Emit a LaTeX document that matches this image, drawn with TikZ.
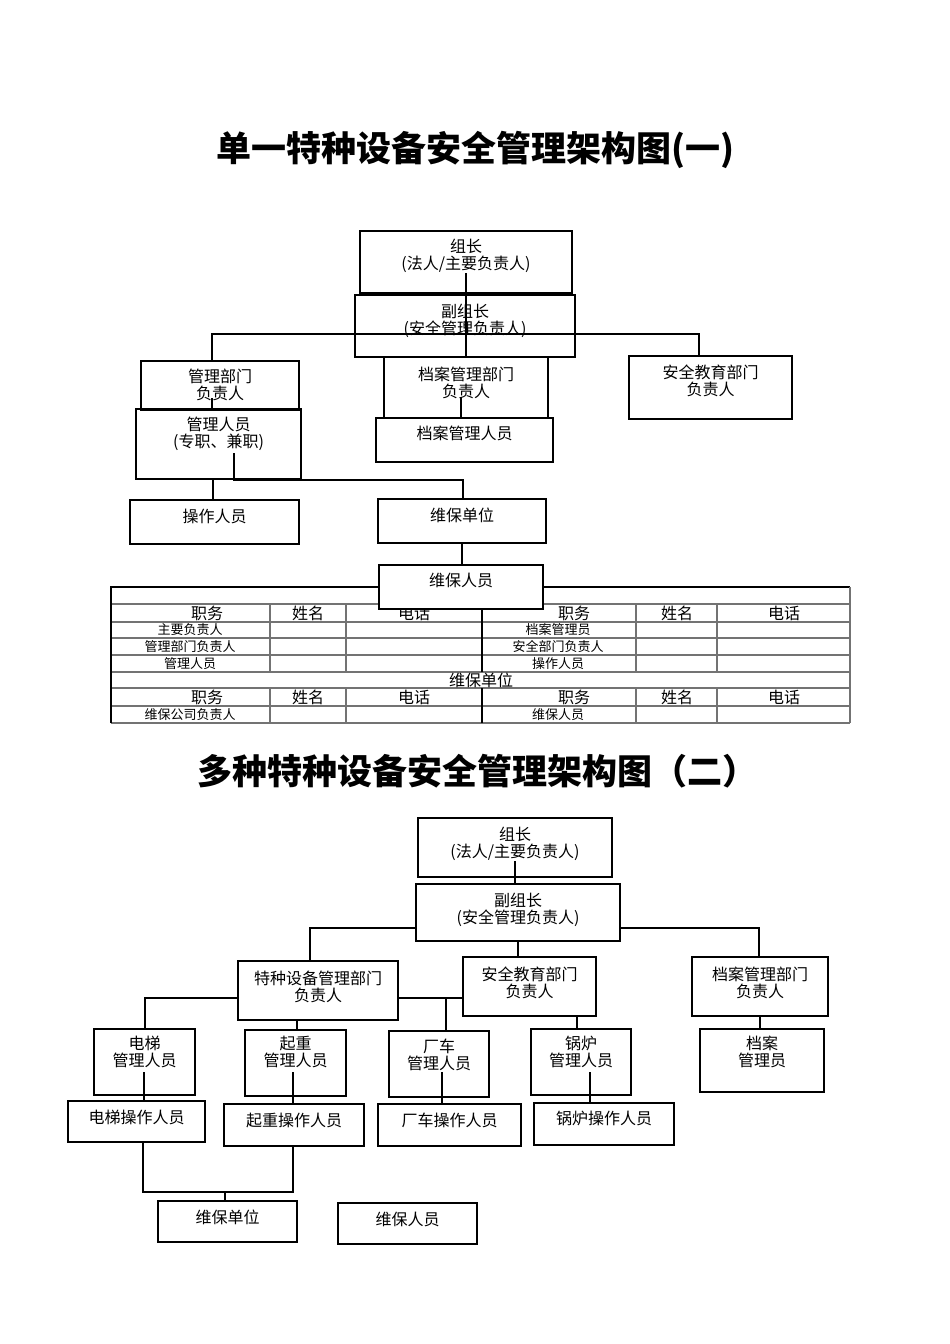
\documentclass[tikz,border=0pt]{standalone}
\usepackage{fontspec}
\setmainfont{Noto Sans CJK SC}
\begin{document}
\begin{tikzpicture}[x=1pt,y=1pt,yscale=-1,
  box/.style={draw,line width=2pt,inner sep=0pt},
  txt/.style={font=\fontsize{16}{17.5}\selectfont,align=center,inner sep=0pt},
  ttl/.style={font=\fontsize{35}{40}\selectfont\bfseries,inner sep=0pt},
  link/.style={line width=2pt},
  grid/.style={line width=1.1pt,draw=black!55},
  hd/.style={font=\fontsize{16}{17}\selectfont,inner sep=0pt},
  cell/.style={font=\fontsize{13}{14}\selectfont,inner sep=0pt}]
\useasboundingbox (0,0) rectangle (950,1344);

%Title (one)
\node[ttl] (title1) at (475,150) {单一特种设备安全管理架构图(一)};

%Shape: Rectangles, first chart
\node[box,minimum width=212,minimum height=62] (zz1) at (466,262) {};
\node[txt] (zz1t) at (466,256) {组长\\(法人/主要负责人)};
\node[box,minimum width=220,minimum height=62] (fzz1) at (465,326) {};
\node[txt] (fzz1t) at (465,321) {副组长\\(安全管理负责人)};
\node[box,minimum width=158,minimum height=49] (gl1) at (220,385.5) {};
\node[txt] (gl1t) at (220,385) {管理部门\\负责人};
\node[box,minimum width=164,minimum height=61] (dagl1) at (466,387.5) {};
\node[txt] (dagl1t) at (466,383) {档案管理部门\\负责人};
\node[box,minimum width=163,minimum height=63] (aq1) at (710.5,387.5) {};
\node[txt] (aq1t) at (710.5,381) {安全教育部门\\负责人};
\node[box,minimum width=165,minimum height=70] (glry1) at (218.5,444) {};
\node[txt] (glry1t) at (218.5,434) {管理人员\\(专职、兼职)};
\node[box,minimum width=177,minimum height=44] (dary1) at (464.5,440) {};
\node[txt] (dary1t) at (464.5,433) {档案管理人员};
\node[box,minimum width=169,minimum height=44] (czry1) at (214.5,522) {};
\node[txt] (czry1t) at (214.5,516) {操作人员};
\node[box,minimum width=168,minimum height=44] (wbdw1) at (462,521) {};
\node[txt] (wbdw1t) at (462,515) {维保单位};

%Lines, first chart
\coordinate (a1) at (212,334);
\coordinate (a2) at (699,334);
\coordinate (a3) at (212,398);
\coordinate (a4) at (461,397);
\coordinate (a5) at (234,453);
\coordinate (a6) at (463,480);
\coordinate (a7) at (213,479);
\draw[link] (zz1t.south) -- (zz1t.south |- dagl1.north);
\draw[link] (a1 |- gl1.north) -- (a1) -- (a2) -- (a2 |- aq1.north);
\draw[link] (a3) -- (a3 |- glry1.north);
\draw[link] (a4) -- (a4 |- dary1.north);
\draw[link] (a5) |- (a6) -- (a6 |- wbdw1.north);
\draw[link] (a7) -- (a7 |- czry1.north);
\draw[link] (wbdw1.south) -- (wbdw1.south |- 0,565);

%Table
\foreach \yy in {587,604,622,638,655,672,688,706,723}
  \draw[grid] (111,\yy) -- (850,\yy);
\foreach \xx in {270,346,636,717}{
  \draw[grid] (\xx,604) -- (\xx,672);
  \draw[grid] (\xx,688) -- (\xx,723);}
\draw[line width=1.4pt] (482,604) -- (482,672) (482,688) -- (482,723);
\draw[line width=1.2pt] (111,723) -- (111,587) -- (850,587);
\draw[grid] (850,587) -- (850,723);
\foreach \yy in {613,697}{
  \node[hd] at (207,\yy) {职务};
  \node[hd] at (308,\yy) {姓名};
  \node[hd] at (414,\yy) {电话};
  \node[hd] at (574,\yy) {职务};
  \node[hd] at (677,\yy) {姓名};
  \node[hd] at (784,\yy) {电话};}
\node[cell] (c1) at (190,630) {主要负责人};
\node[cell] (c2) at (190,646.5) {管理部门负责人};
\node[cell] (c3) at (190,663.5) {管理人员};
\node[cell] (c4) at (558,630) {档案管理员};
\node[cell] (c5) at (558,646.5) {安全部门负责人};
\node[cell] (c6) at (558,663.5) {操作人员};
\node[hd] (c7) at (481,680) {维保单位};
\node[cell] (c8) at (190,714.5) {维保公司负责人};
\node[cell] (c9) at (558,714.5) {维保人员};

%Shape: Rectangle over the table
\node[box,fill=white,minimum width=164,minimum height=44] (wbry1) at (461,587) {};
\node[txt] (wbry1t) at (461,580) {维保人员};

%Title (two)
\node[ttl] (title2) at (477,771) {多种特种设备安全管理架构图（二）};

%Shape: Rectangles, second chart
\node[box,minimum width=194,minimum height=59] (zz2) at (515,847.5) {};
\node[txt] (zz2t) at (515,844) {组长\\(法人/主要负责人)};
\node[box,minimum width=204,minimum height=57] (fzz2) at (518,912.5) {};
\node[txt] (fzz2t) at (518,910) {副组长\\(安全管理负责人)};
\node[box,minimum width=160,minimum height=59] (tz) at (318,990.5) {};
\node[txt] (tzt) at (318,987) {特种设备管理部门\\负责人};
\node[box,minimum width=133,minimum height=59] (aq2) at (529.5,986.5) {};
\node[txt] (aq2t) at (529.5,983) {安全教育部门\\负责人};
\node[box,minimum width=136,minimum height=59] (da2) at (760,986.5) {};
\node[txt] (da2t) at (760,983) {档案管理部门\\负责人};
\node[box,minimum width=101,minimum height=66] (dt) at (144.5,1062) {};
\node[txt] (dtt) at (144.5,1052) {电梯\\管理人员};
\node[box,minimum width=101,minimum height=66] (qz) at (295.5,1063) {};
\node[txt] (qzt) at (295.5,1052) {起重\\管理人员};
\node[box,minimum width=100,minimum height=66] (cc) at (439,1064) {};
\node[txt] (cct) at (439,1055) {厂车\\管理人员};
\node[box,minimum width=100,minimum height=66] (gq) at (581,1062) {};
\node[txt] (gqt) at (581,1052) {锅炉\\管理人员};
\node[box,minimum width=124,minimum height=63] (dagly) at (762,1060.5) {};
\node[txt] (daglyt) at (762,1052) {档案\\管理员};
\node[box,minimum width=137,minimum height=41] (dtcz) at (136.5,1121.5) {};
\node[txt] (dtczt) at (136.5,1117) {电梯操作人员};
\node[box,minimum width=140,minimum height=42] (qzcz) at (294,1125) {};
\node[txt] (qzczt) at (294,1120) {起重操作人员};
\node[box,minimum width=143,minimum height=42] (cccz) at (449.5,1125) {};
\node[txt] (ccczt) at (449.5,1120) {厂车操作人员};
\node[box,minimum width=140,minimum height=42] (gqcz) at (604,1124) {};
\node[txt] (gqczt) at (604,1118) {锅炉操作人员};
\node[box,minimum width=139,minimum height=41] (wbdw2) at (227.5,1221.5) {};
\node[txt] (wbdw2t) at (227.5,1217) {维保单位};
\node[box,minimum width=139,minimum height=41] (wbry2) at (407.5,1223.5) {};
\node[txt] (wbry2t) at (407.5,1219) {维保人员};

%Lines, second chart
\coordinate (b1) at (310,928);
\coordinate (b2) at (759,928);
\coordinate (b3) at (145,998);
\coordinate (b4) at (446,998);
\coordinate (b5) at (297,1020);
\coordinate (b6) at (577,1016);
\coordinate (e1) at (144,1072);
\coordinate (e2) at (293,1072);
\coordinate (e3) at (442,1072);
\coordinate (e4) at (590,1072);
\coordinate (f1) at (143,1192);
\coordinate (f2) at (293,1192);
\coordinate (f3) at (225,1192);
\draw[link] (zz2t.south) -- (zz2t.south |- fzz2.north);
\draw[link] (fzz2.west |- b1) -- (b1) -- (b1 |- tz.north);
\draw[link] (fzz2.east |- b2) -- (b2) -- (b2 |- da2.north);
\draw[link] (fzz2.south) -- (fzz2.south |- aq2.north);
\draw[link] (tz.west |- b3) -- (b3) -- (b3 |- dt.north);
\draw[link] (tz.east |- b4) -- (aq2.west |- b4);
\draw[link] (b4) -- (b4 |- cc.north);
\draw[link] (b5) -- (b5 |- qz.north);
\draw[link] (b6) -- (b6 |- gq.north);
\draw[link] (da2.south) -- (da2.south |- dagly.north);
\draw[link] (e1) -- (e1 |- dtcz.north);
\draw[link] (e2) -- (e2 |- qzcz.north);
\draw[link] (e3) -- (e3 |- cccz.north);
\draw[link] (e4) -- (e4 |- gqcz.north);
\draw[link] (f1 |- dtcz.south) -- (f1) -- (f2) -- (f2 |- qzcz.south);
\draw[link] (f3) -- (f3 |- wbdw2.north);

\end{tikzpicture}
\end{document}
